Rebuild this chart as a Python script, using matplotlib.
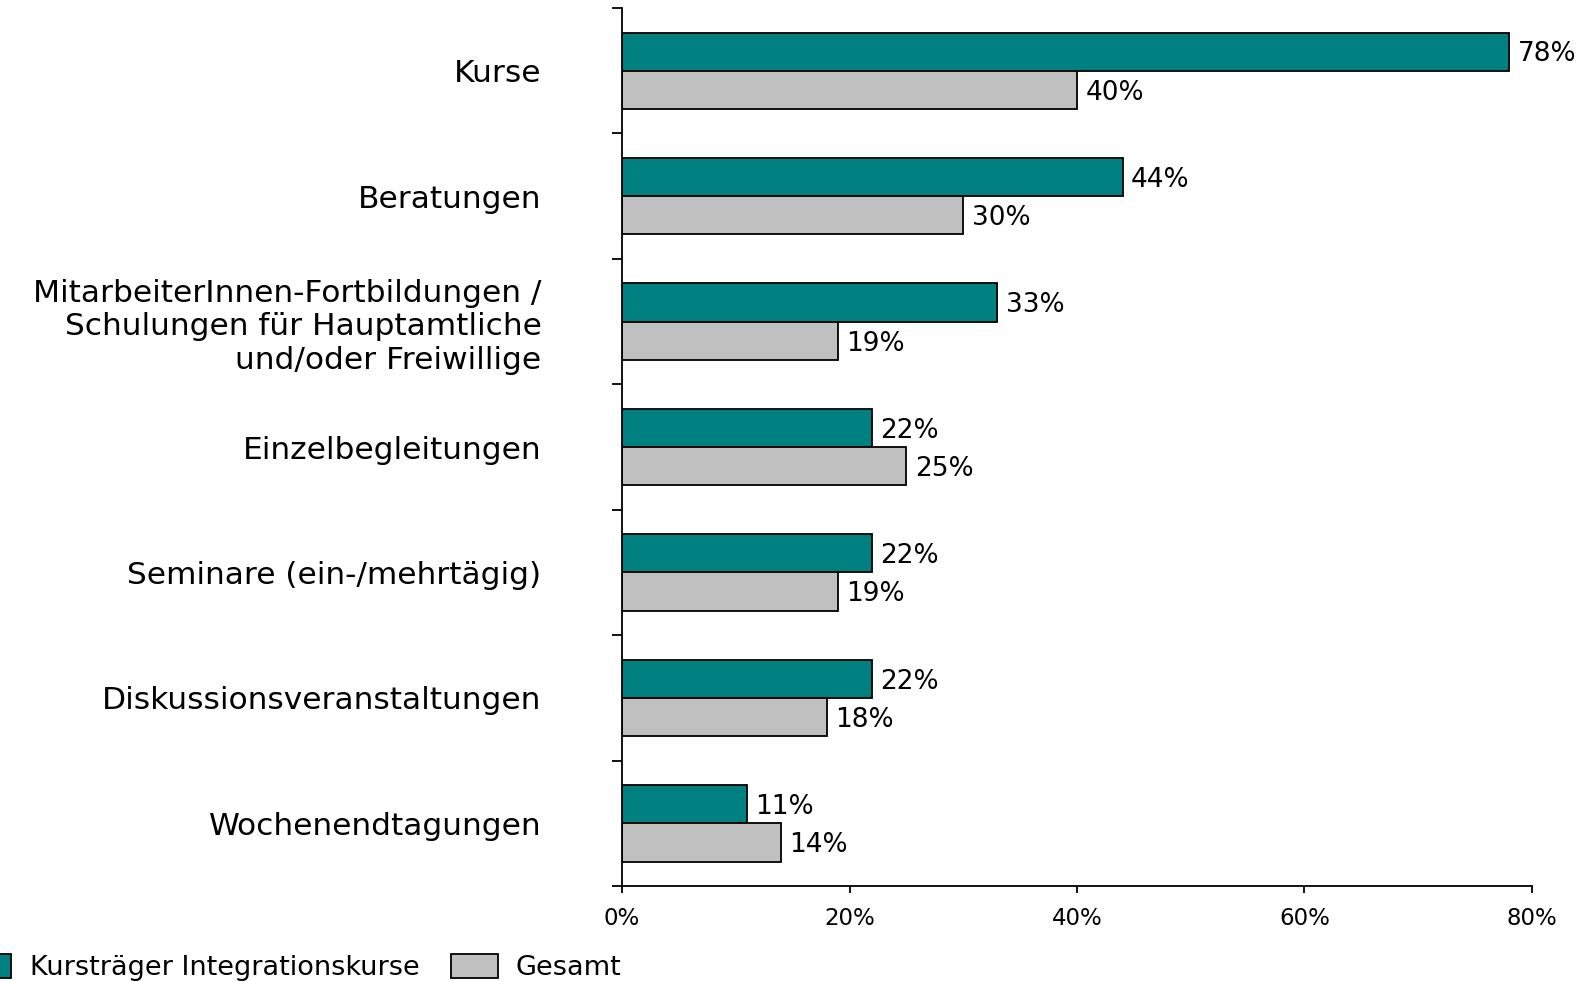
import numpy as np
from matplotlib import pyplot as plt
from matplotlib.ticker import FixedLocator, FuncFormatter

categories = [
    "Kurse",
    "Beratungen",
    "MitarbeiterInnen-Fortbildungen /\nSchulungen für Hauptamtliche\nund/oder Freiwillige",
    "Einzelbegleitungen",
    "Seminare (ein-/mehrtägig)",
    "Diskussionsveranstaltungen",
    "Wochenendtagungen",
]
kurstraeger = [78, 44, 33, 22, 22, 22, 11]
gesamt = [40, 30, 19, 25, 19, 18, 14]
series_names = ["Kursträger Integrationskurse", "Gesamt"]
x_ticks = [0, 20, 40, 60, 80]

teal = "#008080"
grey = "#C0C0C0"

fig = plt.figure(figsize=(15.8, 9.81), dpi=100)
ax = fig.add_axes([0.3937, 0.0968, 0.5759, 0.895])

y = np.arange(len(categories))
h = 0.305
b1 = ax.barh(y - h / 2, kurstraeger, height=h, color=teal, edgecolor="black",
             linewidth=1.3, label=series_names[0])
b2 = ax.barh(y + h / 2, gesamt, height=h, color=grey, edgecolor="black",
             linewidth=1.3, label=series_names[1])
# value labels, a touch below the bar centre like the original
for bars in (b1, b2):
    for r in bars:
        ax.annotate("%d%%" % r.get_width(),
                    (r.get_width(), r.get_y() + r.get_height() / 2),
                    xytext=(6, -2), textcoords="offset points",
                    ha="left", va="center", fontsize=19)

ax.set_ylim(len(categories) - 0.5, -0.5)
ax.set_xlim(0, 80)

# ticks on category borders, labels in the middle
ax.yaxis.set_major_locator(FixedLocator(np.arange(len(categories) + 1) - 0.5))
ax.yaxis.set_major_formatter(FuncFormatter(lambda v, p: ""))
ax.yaxis.set_minor_locator(FixedLocator(y))
ax.set_yticklabels(categories, minor=True, fontsize=22.5, ha="right",
                   multialignment="right", linespacing=1.2)
ax.tick_params(axis="y", which="major", length=7, width=1.3, direction="out")
ax.tick_params(axis="y", which="minor", length=0, pad=58)

ax.xaxis.set_major_locator(FixedLocator(x_ticks))
ax.xaxis.set_major_formatter(FuncFormatter(lambda v, p: "%d%%" % v))
ax.tick_params(axis="x", length=5, width=1.3, direction="out", labelsize=16.5, pad=10)

for s in ["top", "right"]:
    ax.spines[s].set_visible(False)
for s in ["left", "bottom"]:
    ax.spines[s].set_linewidth(1.3)

fig.legend(loc="lower left", bbox_to_anchor=(-0.038, -0.025), ncol=2, frameon=False,
           fontsize=19.5, handlelength=1.74, handleheight=1.0, handletextpad=0.67,
           columnspacing=1.15)

plt.savefig("out.png", dpi=100)
